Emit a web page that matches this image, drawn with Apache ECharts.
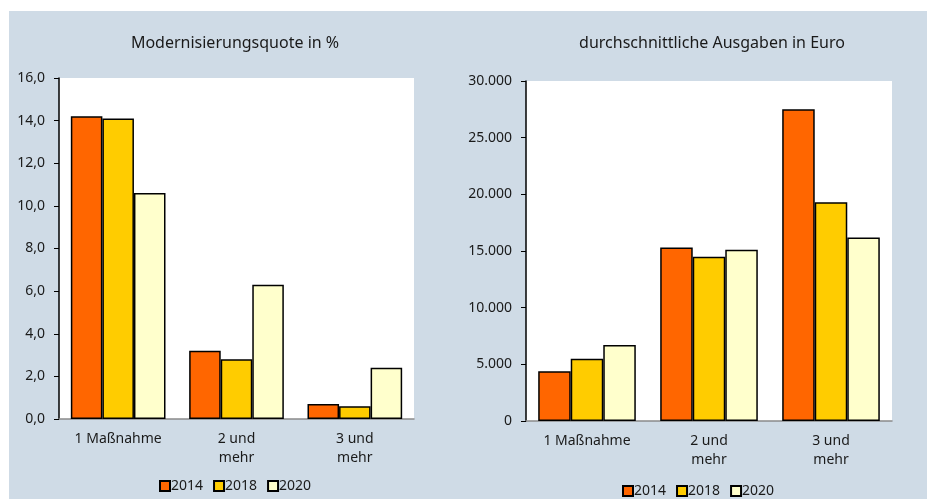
<!DOCTYPE html>
<html>
<head>
<meta charset="utf-8">
<script src="https://cdn.jsdelivr.net/npm/echarts@6/dist/echarts.min.js"></script>
<style>
html, body { margin: 0; padding: 0; background: #ffffff; }
#main { width: 927px; height: 499px; }
</style>
</head>
<body>
<div id="main"></div>
<script>
// Kategorien und Werte
var categories = ['1 Maßnahme', '2 und\nmehr', '3 und\nmehr'];
var years = ['2014', '2018', '2020'];
var colors = ['#ff6600', '#ffcc00', '#ffffcc'];

// Modernisierungsquote in %
var quote2014 = [14.2, 3.2, 0.7];
var quote2018 = [14.1, 2.8, 0.6];
var quote2020 = [10.6, 6.3, 2.4];

// durchschnittliche Ausgaben in Euro
var ausgaben2014 = [4400, 15300, 27500];
var ausgaben2018 = [5500, 14500, 19300];
var ausgaben2020 = [6700, 15100, 16200];

var font = '"Noto Sans", "Open Sans", sans-serif';
var txt = '#1a1a1a';

function barSeries(name, color, data, idx) {
    return {
        name: name,
        type: 'bar',
        xAxisIndex: idx,
        yAxisIndex: idx,
        barGap: '0%',
        barCategoryGap: '20%',
        itemStyle: { color: color, borderColor: '#000', borderWidth: 1.5 },
        emphasis: { disabled: true },
        data: data
    };
}

function xAx(idx) {
    return {
        type: 'category',
        gridIndex: idx,
        data: categories,
        axisLine: { lineStyle: { color: '#8a8a8a', width: 1.5 } },
        axisTick: { show: false },
        axisLabel: { color: txt, fontFamily: font, fontSize: 14, margin: 11, lineHeight: 19 }
    };
}

option = {
    backgroundColor: '#ffffff',
    animation: false,
    graphic: [{
        type: 'rect',
        shape: { x: 9, y: 11, width: 918, height: 488 },
        style: { fill: '#cfdbe6' },
        z: -10
    }],
    title: [
        { text: 'Modernisierungsquote in %', left: 230, top: 30, textAlign: 'center',
          textStyle: { fontWeight: 'normal', fontSize: 16, color: txt, fontFamily: font } },
        { text: 'durchschnittliche Ausgaben in Euro', left: 707, top: 30, textAlign: 'center',
          textStyle: { fontWeight: 'normal', fontSize: 16, color: txt, fontFamily: font } }
    ],
    legend: [
        { data: years, left: 159, top: 479, padding: 0, icon: 'rect', itemWidth: 10, itemHeight: 10, itemGap: 10,
          textStyle: { color: txt, fontFamily: font, fontSize: 14, padding: [0, 0, 0, -4] }, selectedMode: false },
        { data: years, left: 622, top: 484, padding: 0, icon: 'rect', itemWidth: 10, itemHeight: 10, itemGap: 10,
          textStyle: { color: txt, fontFamily: font, fontSize: 14, padding: [0, 0, 0, -4] }, selectedMode: false }
    ],
    grid: [
        { left: 59, right: 513, top: 78, bottom: 80, show: true, backgroundColor: '#ffffff', borderWidth: 0 },
        { left: 526, right: 35, top: 81, bottom: 78, show: true, backgroundColor: '#ffffff', borderWidth: 0 }
    ],
    xAxis: [xAx(0), xAx(1)],
    yAxis: [
        {
            type: 'value', gridIndex: 0, min: 0, max: 16, interval: 2,
            axisLine: { show: true, lineStyle: { color: '#000', width: 1.5 } },
            axisTick: { show: true, length: 5, lineStyle: { color: '#000' } },
            splitLine: { show: false },
            axisLabel: { color: txt, fontFamily: font, fontSize: 14, margin: 14,
                formatter: function (v) { return v.toFixed(1).replace('.', ','); } }
        },
        {
            type: 'value', gridIndex: 1, min: 0, max: 30000, interval: 5000,
            axisLine: { show: true, lineStyle: { color: '#000', width: 1.5 } },
            axisTick: { show: true, length: 5, lineStyle: { color: '#000' } },
            splitLine: { show: false },
            axisLabel: { color: txt, fontFamily: font, fontSize: 14, margin: 14,
                formatter: function (v) { return String(v).replace(/\B(?=(\d{3})+(?!\d))/g, '.'); } }
        }
    ],
    series: [
        barSeries('2014', colors[0], quote2014, 0),
        barSeries('2018', colors[1], quote2018, 0),
        barSeries('2020', colors[2], quote2020, 0),
        barSeries('2014', colors[0], ausgaben2014, 1),
        barSeries('2018', colors[1], ausgaben2018, 1),
        barSeries('2020', colors[2], ausgaben2020, 1)
    ]
};

var myChart = echarts.init(document.getElementById('main'));
myChart.setOption(option);
</script>
</body>
</html>
